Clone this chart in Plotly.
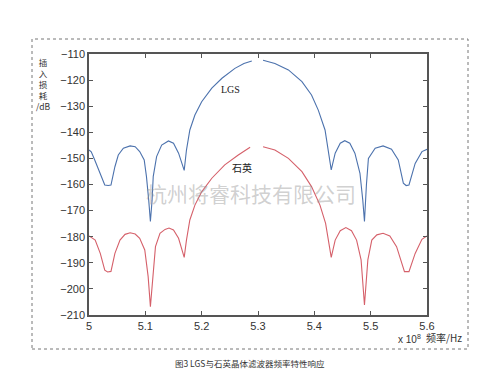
import plotly.graph_objects as go

# Frequency (x 10^8 Hz) and insertion loss (dB)
freq_lgs = [5.000, 5.004, 5.010, 5.016, 5.022, 5.028, 5.034, 5.039, 5.046, 5.052,
            5.061, 5.073, 5.082, 5.090, 5.098, 5.102, 5.106, 5.109, 5.112, 5.114,
            5.120, 5.129, 5.141, 5.150, 5.159, 5.165, 5.169, 5.173, 5.179, 5.188,
            5.200, 5.218, 5.236, 5.259, 5.275, 5.289, 5.300, 5.309, 5.330, 5.354,
            5.378, 5.395, 5.407, 5.419, 5.426, 5.430, 5.437, 5.446, 5.454, 5.463,
            5.472, 5.481, 5.486, 5.489, 5.4925, 5.496, 5.508, 5.522, 5.537, 5.549,
            5.558, 5.563, 5.568, 5.579, 5.591, 5.600]
loss_lgs = [-146.8, -147.5, -150.5, -153.5, -157.0, -160.2, -160.4, -160.2, -153.2, -148.7,
            -146.1, -145.2, -145.5, -147.4, -150.6, -157.0, -166.0, -174.2, -166.0, -157.0,
            -149.3, -144.9, -143.3, -144.2, -148.0, -151.9, -154.6, -146.8, -139.1, -133.4,
            -128.3, -123.1, -119.3, -115.5, -113.6, -112.7, None, -112.4, -113.6, -116.1,
            -120.6, -125.7, -131.5, -139.1, -148.0, -154.4, -148.0, -144.2, -143.2, -144.2,
            -148.0, -155.7, -166.0, -174.2, -160.0, -150.0, -146.1, -145.2, -146.5, -150.6,
            -159.5, -160.4, -160.2, -151.9, -147.4, -146.5]

freq_quartz = [5.000, 5.011, 5.020, 5.028, 5.033, 5.039, 5.046, 5.055, 5.064, 5.073,
               5.082, 5.090, 5.099, 5.105, 5.109, 5.114, 5.118, 5.126, 5.135, 5.142,
               5.150, 5.159, 5.166, 5.169, 5.173, 5.179, 5.188, 5.200, 5.218, 5.241,
               5.265, 5.286, 5.300, 5.309, 5.330, 5.354, 5.378, 5.395, 5.410, 5.420,
               5.426, 5.430, 5.437, 5.446, 5.456, 5.466, 5.475, 5.483, 5.489, 5.495,
               5.502, 5.511, 5.522, 5.534, 5.546, 5.555, 5.560, 5.568, 5.579, 5.591,
               5.600]
loss_quartz = [-179.7, -181.3, -186.4, -192.8, -193.5, -193.3, -186.4, -181.3, -179.1, -178.5,
               -179.0, -180.6, -185.1, -195.3, -206.8, -194.0, -183.8, -178.7, -177.2, -176.7,
               -177.4, -180.6, -185.1, -187.9, -181.3, -173.6, -167.9, -162.8, -157.6, -152.5,
               -148.7, -145.7, None, -145.5, -146.8, -150.0, -155.1, -160.8, -167.9, -174.9,
               -182.5, -187.9, -181.3, -177.7, -176.5, -177.7, -181.3, -188.9, -206.2, -188.9,
               -181.3, -179.3, -178.7, -179.7, -183.8, -190.2, -193.4, -193.4, -186.4, -181.0,
               -179.7]

x_ticks = [5.0, 5.1, 5.2, 5.3, 5.4, 5.5, 5.6]
x_tick_text = ["5", "5.1", "5.2", "5.3", "5.4", "5.5", "5.6"]
y_ticks = [-110, -120, -130, -140, -150, -160, -170, -180, -190, -200, -210]

fig = go.Figure()
fig.add_trace(go.Scatter(x=freq_lgs, y=loss_lgs, mode="lines",
                         line=dict(color="#4c72ad", width=1.1), connectgaps=False,
                         showlegend=False, hoverinfo="skip"))
fig.add_trace(go.Scatter(x=freq_quartz, y=loss_quartz, mode="lines",
                         line=dict(color="#d5606a", width=1.1), connectgaps=False,
                         showlegend=False, hoverinfo="skip"))

tick_font = dict(family="Liberation Sans, Arial, sans-serif", size=11, color="#333333")
fig.update_xaxes(range=[5.0, 5.6], tickvals=x_ticks, ticktext=x_tick_text,
                 ticks="inside", ticklen=4, tickcolor="#555555",
                 showline=True, linecolor="#555555", linewidth=1.5, mirror="ticks",
                 showgrid=False, zeroline=False, tickfont=tick_font)
fig.update_yaxes(range=[-210, -110], tickvals=y_ticks,
                 ticks="inside", ticklen=4, tickcolor="#555555",
                 showline=True, linecolor="#555555", linewidth=1.5, mirror="ticks",
                 showgrid=False, zeroline=False, tickfont=tick_font)

cjk = "Noto Sans CJK SC"
annotations = [
    dict(x=230, y=89, text="LGS", font=dict(family="Liberation Serif, serif", size=10, color="#222")),
    dict(x=242, y=167, text="石英", font=dict(family=cjk, size=10, color="#222")),
    dict(x=251, y=193, text="杭州将睿科技有限公司",
         font=dict(family=cjk, size=21, color="rgba(150,150,150,0.45)")),
    dict(x=250, y=363, text="图3 LGS与石英晶体滤波器频率特性响应",
         font=dict(family=cjk, size=8.5, color="#333")),
    dict(x=409, y=339, text="x 10<sup>8</sup>",
         font=dict(family="Liberation Sans, Arial", size=10, color="#333")),
    dict(x=444, y=337, text="频率/Hz", font=dict(family=cjk, size=10, color="#333")),
    dict(x=43, y=84, text="插<br>入<br>损<br>耗<br>/dB",
         font=dict(family=cjk, size=8.5, color="#333")),
]

W, H = 503, 389
L, R, T, B = 89, 76, 54, 74
pw, ph = W - L - R, H - T - B
anns = []
for a in annotations:
    px, py = a.pop("x"), a.pop("y")
    anns.append(dict(xref="paper", yref="paper",
                     x=(px - L) / pw, y=1 - (py - T) / ph,
                     xanchor="center", yanchor="middle", showarrow=False, **a))

def fx(px):
    return (px - L) / pw

def fy(py):
    return 1 - (py - T) / ph

fig.add_shape(type="rect", xref="paper", yref="paper",
              x0=fx(32), x1=fx(468), y0=fy(349), y1=fy(39),
              line=dict(color="#777777", width=1, dash="dot"), layer="below")

fig.update_layout(width=W, height=H, margin=dict(l=L, r=R, t=T, b=B),
                  paper_bgcolor="white", plot_bgcolor="white",
                  annotations=anns)

fig.write_html("out.html")
